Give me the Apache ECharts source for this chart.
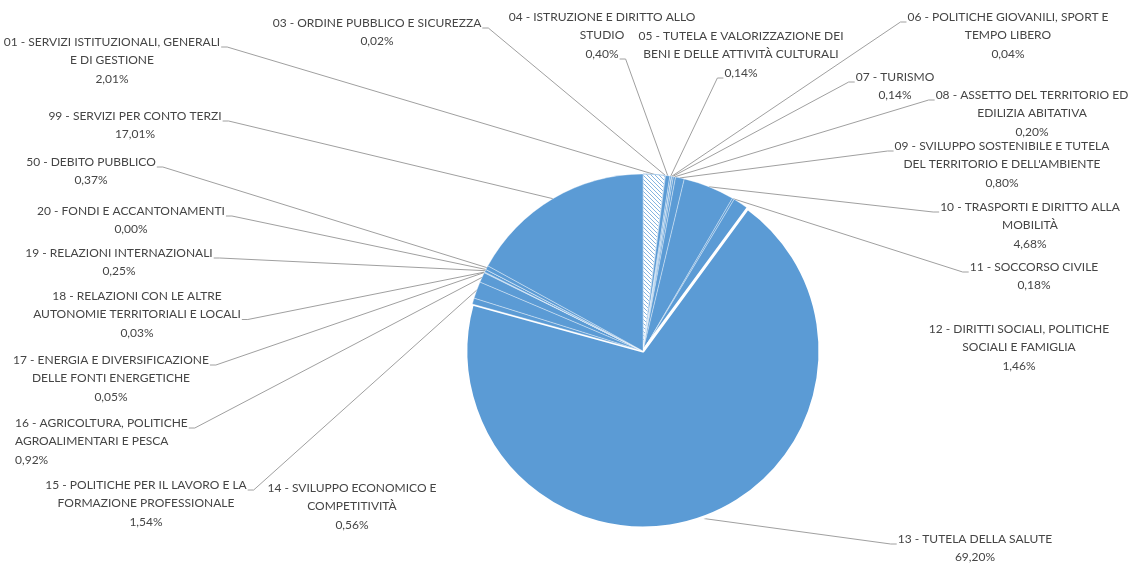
<!DOCTYPE html>
<html>
<head>
<meta charset="utf-8">
<script src="https://cdn.jsdelivr.net/npm/echarts@6/dist/echarts.min.js"></script>
<style>
html,body{margin:0;padding:0;background:#fff;}
#chart{width:1135px;height:563px;}
</style>
</head>
<body>
<div id="chart"></div>
<script>
// ---- data ----
const categories = [
  "01 - SERVIZI ISTITUZIONALI, GENERALI\nE DI GESTIONE",
  "03 - ORDINE PUBBLICO E SICUREZZA",
  "04 - ISTRUZIONE E DIRITTO ALLO\nSTUDIO",
  "05 - TUTELA E VALORIZZAZIONE DEI\nBENI E DELLE ATTIVITÀ CULTURALI",
  "06 - POLITICHE GIOVANILI, SPORT E\nTEMPO LIBERO",
  "07 - TURISMO",
  "08 - ASSETTO DEL TERRITORIO ED\nEDILIZIA ABITATIVA",
  "09 - SVILUPPO SOSTENIBILE E TUTELA\nDEL TERRITORIO E DELL'AMBIENTE",
  "10 - TRASPORTI E DIRITTO ALLA\nMOBILITÀ",
  "11 - SOCCORSO CIVILE",
  "12 - DIRITTI SOCIALI, POLITICHE\nSOCIALI E FAMIGLIA",
  "13 - TUTELA DELLA SALUTE",
  "14 - SVILUPPO ECONOMICO E\nCOMPETITIVITÀ",
  "15 - POLITICHE PER IL LAVORO E LA\nFORMAZIONE PROFESSIONALE",
  "16 - AGRICOLTURA, POLITICHE\nAGROALIMENTARI E PESCA",
  "17 - ENERGIA E DIVERSIFICAZIONE\nDELLE FONTI ENERGETICHE",
  "18 - RELAZIONI CON LE ALTRE\nAUTONOMIE TERRITORIALI E LOCALI",
  "19 - RELAZIONI INTERNAZIONALI",
  "20 - FONDI E ACCANTONAMENTI",
  "50 - DEBITO PUBBLICO",
  "99 - SERVIZI PER CONTO TERZI"
];
const values = [2.01, 0.02, 0.40, 0.14, 0.04, 0.14, 0.20, 0.80, 4.68, 0.18, 1.46, 69.20, 0.56, 1.54, 0.92, 0.05, 0.03, 0.25, 0.00, 0.37, 17.01];

// ---- label layout (positions only) ----
// cx: text x (centre, or left edge when align is 'left'), y: centre of first text line,
// line: which text line the leader attaches to, side: which end of that line
const labelPlace = [
  {cx:112, y:42,  align:'center', line:0, side:'right'},
  {cx:377, y:23,  align:'center', line:0, side:'right'},
  {cx:602, y:17,  align:'center', line:2, side:'right'},
  {cx:741, y:36,  align:'center', line:2, side:'left'},
  {cx:1008,y:17,  align:'center', line:0, side:'left'},
  {cx:895, y:77,  align:'center', line:0, side:'left'},
  {cx:1032,y:95,  align:'center', line:0, side:'left'},
  {cx:1002,y:146, align:'center', line:0, side:'left'},
  {cx:1030,y:207, align:'center', line:0, side:'left'},
  {cx:1034,y:267, align:'center', line:0, side:'left'},
  {cx:1019,y:329, align:'center', line:-1},
  {cx:975, y:539, align:'center', line:0, side:'left'},
  {cx:352, y:488, align:'center', line:-1},
  {cx:146, y:485, align:'center', line:0, side:'right'},
  {cx:15,  y:423, align:'left',   line:0, side:'right'},
  {cx:111, y:360, align:'center', line:0, side:'right'},
  {cx:137, y:296, align:'center', line:1, side:'right'},
  {cx:119, y:253, align:'center', line:0, side:'right'},
  {cx:131, y:211, align:'center', line:0, side:'right'},
  {cx:91,  y:162, align:'center', line:0, side:'right'},
  {cx:135, y:116, align:'center', line:0, side:'right'}
];

const FONT_FAMILY = 'Lato, "Liberation Sans", sans-serif';
const FONT_SIZE = 12;
const LINE_H = 18.5;
const TEXT_COLOR = '#454545';
const BLUE = '#5B9BD5';
const CENTER = [643, 351];
const RADIUS = 177;

function fmtPct(v){ return v.toFixed(2).replace('.', ',') + '%'; }

const measureCtx = document.createElement('canvas').getContext('2d');
measureCtx.font = FONT_SIZE + 'px ' + FONT_FAMILY;
function textW(s){ return measureCtx.measureText(s).width; }

// hatch pattern for slice 01
const pat = document.createElement('canvas');
pat.width = 4; pat.height = 4;
(function(){
  const c = pat.getContext('2d');
  c.fillStyle = '#ffffff'; c.fillRect(0,0,4,4);
  c.fillStyle = '#86b5e0';
  for (let i=0;i<4;i++) c.fillRect(i,i,1,1);
})();

const total = values.reduce((a,b)=>a+b,0);
function fallbackAnchor(idx){
  let cum = 0; for (let i=0;i<idx;i++) cum += values[i];
  const a = 2*Math.PI*(cum + values[idx]/2)/total;
  return [CENTER[0] + RADIUS*Math.sin(a), CENTER[1] - RADIUS*Math.cos(a)];
}

const seriesData = categories.map((name, i) => {
  const item = { name: name, value: values[i] };
  if (i === 0) {
    item.itemStyle = { color: { image: pat, repeat: 'repeat' }, borderColor: '#a9cbea', borderWidth: 1 };
  } else if (i === 11) {
    item.itemStyle = { borderColor: '#ffffff', borderWidth: 3 };
  }
  if (labelPlace[i].line < 0) item.labelLine = { show: false };
  return item;
});

const chart = echarts.init(document.getElementById('chart'), null, {renderer:'canvas'});
chart.setOption({
  backgroundColor: '#ffffff',
  animation: false,
  series: [{
    type: 'pie',
    center: CENTER,
    radius: RADIUS,
    startAngle: 90,
    clockwise: true,
    avoidLabelOverlap: false,
    minShowLabelAngle: 0,
    data: seriesData,
    itemStyle: { color: BLUE, borderColor: 'rgba(255,255,255,0.35)', borderWidth: 1 },
    label: {
      show: true,
      position: 'outside',
      formatter: p => p.name + '\n' + fmtPct(p.value),
      fontFamily: FONT_FAMILY,
      fontSize: FONT_SIZE,
      lineHeight: LINE_H,
      color: TEXT_COLOR,
      align: 'center'
    },
    labelLine: { show: true, length: 0, length2: 0, smooth: false, lineStyle: { color: '#a0a0a0', width: 1 } },
    emphasis: { disabled: true },
    labelLayout: function (params) {
      const i = params.dataIndex;
      const pl = labelPlace[i];
      const lines = (categories[i] + '\n' + fmtPct(values[i])).split('\n');
      const res = { x: pl.cx, y: pl.y - LINE_H/2, align: pl.align, verticalAlign: 'top', hideOverlap: false, moveOverlap: null };
      if (pl.line >= 0) {
        const anchor = (params.labelLinePoints && params.labelLinePoints[0]) ? params.labelLinePoints[0] : fallbackAnchor(i);
        const w = textW(lines[pl.line]);
        let left, right;
        if (pl.align === 'left') { left = pl.cx; right = pl.cx + w; }
        else { left = pl.cx - w/2; right = pl.cx + w/2; }
        const ay = pl.y + pl.line * LINE_H + 5;
        let pts;
        if (pl.side === 'right') {
          const ex = right + 1;
          pts = [anchor, [ex + 6, ay], [ex, ay]];
        } else {
          const ex = left - 1;
          pts = [anchor, [ex - 6, ay], [ex, ay]];
        }
        res.labelLinePoints = pts;
      }
      return res;
    }
  }]
});
</script>
</body>
</html>
